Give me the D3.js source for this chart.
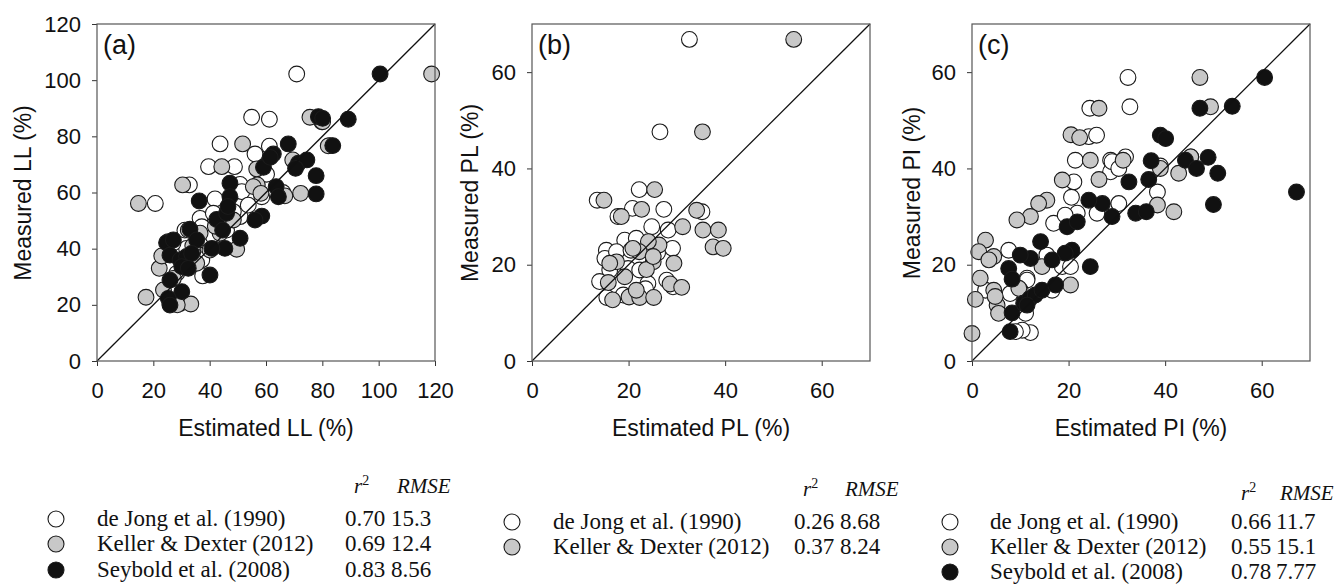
<!DOCTYPE html>
<html lang="en">
<head>
<meta charset="UTF-8">
<title>Measured vs estimated Atterberg limits</title>
<script src="https://cdnjs.cloudflare.com/ajax/libs/d3/7.8.5/d3.min.js"></script>
<style>
    body { margin: 0; background: #fff; }
    svg text { font-family: "Liberation Sans", Arial, sans-serif; fill: #111; }
    .legend text { font-family: "Liberation Serif", "Times New Roman", serif; }
</style>
</head>
<body>
<svg id="chart" width="1336" height="587"></svg>
<script>
// series names and legend stats
const seriesNames = ['de Jong et al. (1990)', 'Keller & Dexter (2012)', 'Seybold et al. (2008)'];
const llTicks = [0, 20, 40, 60, 80, 100, 120];
const plTicks = [0, 20, 40, 60];
const piTicks = [0, 20, 40, 60];
const llStats = [['0.70', '15.3'], ['0.69', '12.4'], ['0.83', '8.56']];
const plStats = [['0.26', '8.68'], ['0.37', '8.24']];
const piStats = [['0.66', '11.7'], ['0.55', '15.1'], ['0.78', '7.77']];

// (a) liquid limit: [estimated, measured]
const llDeJong = [[70.9,102.2],[54.9,86.8],[61.2,86.1],[43.7,77.3],[61.2,76.5],[56.1,73.7],[39.6,69.2],[48.8,69.2],
    [20.7,56.1],[32.8,62.7],[41.9,57.7],[50.8,62.9],[51.4,60.3],[60.2,66.5],[58.5,58.5],[36.6,50.8],[41.3,52.6],
    [50.8,51.4],[31.2,46.6],[36.6,43.1],[46,46.6],[37.5,30.3],[37.2,36],[79.8,85.2],[82.7,76.7],[29.5,20.5],
    [25.9,20.5],[37.2,47.8],[48.4,53.2],[53.7,55.5],[41.3,44.3],[31.8,40.1],[28.3,31.2],[71,70.5],[66,60],
    [34,39],[27,42],[44,49]];
const llKeller = [[118.8,102.2],[75.6,86.8],[80.1,85.2],[51.7,77.3],[44.3,69.2],[30.4,62.7],[14.7,56.1],[56.7,68.4],
    [56.9,62.7],[55.5,62.1],[69.5,71.6],[72.3,59.7],[66.7,58.8],[82.1,76.6],[17.4,22.7],[33.3,20.3],[22.1,33],
    [23,37.4],[49.6,39.8],[40.1,39.5],[32.4,46.6],[35.4,34.8],[48.4,50.2],[43.7,45.5],[23.6,25.3],[25.3,42.5],
    [27.1,29.4],[31.2,34.8],[36.6,45.5],[58.2,59.7],[28.5,20],[42,48],[34,41]];
const llSeybold = [[100.5,102.2],[78.6,87],[80.1,86.4],[89.2,86.1],[67.9,77.3],[62.6,73.7],[83.7,76.7],[59.1,69],
    [71.5,70.4],[74.5,71.6],[70.5,68.6],[77.8,66],[77.8,59.5],[63.6,62.1],[64.4,58.5],[47.2,63.3],[47.2,58.5],
    [36.3,57],[58.5,51.6],[56.1,50.2],[42.5,50.4],[46,52.6],[44.6,46.6],[50.8,43.7],[45.4,40.1],[40.8,40.1],
    [40.1,30.6],[33,46.9],[35.4,43.1],[24.7,42.1],[27.1,43.1],[25.9,37.7],[29.5,36],[31.8,37.2],[33.6,38.3],
    [30.1,33.6],[32.4,33],[25.9,28.8],[30.1,24.7],[25.3,22.3],[25.9,19.9],[61.5,72.5],[46.5,55]];

// (b) plastic limit
const plDeJong = [[32.6,66.8],[26.5,47.6],[22.2,35.6],[13.5,33.4],[20.8,31.7],[27.3,31.5],[17.8,30],[24.8,27.9],
    [28.2,27.2],[29.1,23.4],[19.2,25.1],[21.6,25.5],[15.4,23],[15.1,21.3],[17.5,22.7],[19.9,19.2],[16.1,18.9],
    [14,16.5],[24,16.1],[27.9,16.8],[29.2,15.4],[18.9,13.7],[22.3,18.9],[35.2,31],[15.5,13.2],[23.5,15],
    [26,22.5],[20.5,23]];
const plKeller = [[54.2,66.8],[35.3,47.6],[25.4,35.6],[14.9,33.4],[22.7,31.5],[18.5,30],[34.1,31.3],[31.2,27.9],
    [35.4,27.2],[38.6,27.2],[37.5,23.7],[39.6,23.4],[26.3,24.1],[24.1,24.8],[22.2,22.7],[25.1,20.6],[23.7,19],
    [29.4,20.3],[17.5,20.6],[15.8,16.3],[19.2,17.5],[28.6,16],[31,15.3],[16.7,12.7],[20.1,13.3],[22.3,13.2],
    [25.2,13.2],[21.6,14.7],[25.1,21.7],[16.1,20.3],[20.9,23.4]];

// (c) plasticity index
const piDeJong = [[32.3,58.9],[32.7,52.8],[24.4,52.5],[24.2,46.6],[25.8,46.9],[21.4,41.7],[28.7,41.7],[31.8,42.4],
    [28.7,39.3],[29,41.4],[30.4,40],[21.1,37.2],[20.6,34],[21.8,30.7],[25.9,30.7],[30.4,32.7],[38.4,35.1],
    [16.9,28.6],[19.3,30.3],[7.6,23],[11.4,17.2],[11.4,16.8],[18.7,19.6],[20.4,19.6],[15.5,22],[16.6,14.7],
    [12.1,5.9],[10.4,6.4],[9,6.1],[11.1,9.9],[10,14.7],[7.9,14],[2.8,14.7],[45.3,42.4],[39,40.5]];
const piKeller = [[47.2,58.9],[49.4,52.8],[26.3,52.5],[20.5,47],[22.3,46.4],[24.5,41.7],[31.3,41.7],[26.3,37.7],
    [18.7,37.6],[15.5,33.4],[13.8,32.7],[12.1,30],[9.3,29.3],[2.8,25.1],[1.4,22.7],[4.5,21.7],[1.7,17.2],
    [0.7,12.8],[4.5,14.7],[5.2,11.6],[4.8,13.4],[5.5,9.9],[0,5.7],[14.5,19.6],[20.4,15.8],[39,40],[38.4,32.4],
    [41.8,31],[42.8,39],[45.3,42.4],[9.7,15.1],[3.5,21]];
const piSeybold = [[60.6,58.9],[67.2,35.1],[47.2,52.5],[53.9,52.9],[39,46.9],[40.1,46.2],[37.1,41.6],[32.5,37.2],
    [36.6,37.7],[44.2,41.7],[46.5,40],[48.9,42.3],[50.9,39],[50,32.5],[33.9,30.7],[36.1,31],[29,30],[27,32.7],
    [24.2,33.4],[24.5,19.6],[19.7,27.9],[21.8,28.9],[20.7,23],[19.3,22.4],[14.2,24.8],[16.6,21],[12.1,21.3],
    [10,22],[7.6,19.2],[8.3,17],[8.3,10],[7.9,6.1],[10.7,12],[12,13],[13.1,13.7],[14.5,14.7],[17.3,15.8],[11.4,11.6]];

const fills = ['#ffffff', '#c8c8c8', '#111111'];

const panels = [
    { tag: '(a)', name: 'LL', ticks: llTicks, max: 120, series: [llDeJong, llKeller, llSeybold], stats: llStats,
      left: 97, yLabelX: 23,
      leg: { cx: 56, tx: 97, r2x: 345, rmx: 391, hr: 354, hrm: 397, hy: 493, rows: [526, 551, 577] } },
    { tag: '(b)', name: 'PL', ticks: plTicks, max: 70, series: [plDeJong, plKeller], stats: plStats,
      left: 532, yLabelX: 470,
      leg: { cx: 512, tx: 553, r2x: 794, rmx: 840, hr: 803, hrm: 845, hy: 496, rows: [529, 554] } },
    { tag: '(c)', name: 'PI', ticks: piTicks, max: 70, series: [piDeJong, piKeller, piSeybold], stats: piStats,
      left: 972, yLabelX: 912,
      leg: { cx: 950, tx: 990, r2x: 1231, rmx: 1276, hr: 1241, hrm: 1280, hy: 500, rows: [529, 554, 579] } }
];

const size = 338, plotTop = 24;
const svg = d3.select('#chart');

panels.forEach(p => {
    const x = d3.scaleLinear().domain([0, p.max]).range([p.left, p.left + size]);
    const y = d3.scaleLinear().domain([0, p.max]).range([plotTop + size - 1, plotTop]);
    const g = svg.append('g');

    // axes
    g.append('g')
        .attr('transform', `translate(0,${plotTop + size - 1})`)
        .call(d3.axisBottom(x).tickValues(p.ticks).tickSize(5).tickPadding(16).tickSizeOuter(0))
        .call(a => a.select('.domain').remove())
        .call(a => a.selectAll('text').style('font-size', '22px').attr('fill', '#111'))
        .call(a => a.selectAll('line').attr('stroke', '#333'));
    g.append('g')
        .attr('transform', `translate(${p.left},0)`)
        .call(d3.axisLeft(y).tickValues(p.ticks).tickSize(5).tickPadding(11).tickSizeOuter(0))
        .call(a => a.select('.domain').remove())
        .call(a => a.selectAll('text').style('font-size', '22px').attr('fill', '#111'))
        .call(a => a.selectAll('line').attr('stroke', '#333'));

    // points: open first, then grey, then black
    p.series.forEach((data, i) => {
        g.append('g').selectAll('circle')
            .data(data)
            .enter().append('circle')
            .attr('cx', d => x(d[0]))
            .attr('cy', d => y(d[1]))
            .attr('r', 7.9)
            .attr('fill', fills[i])
            .attr('stroke', '#1a1a1a')
            .attr('stroke-width', 1.1);
    });

    // 1:1 line
    g.append('line')
        .attr('x1', x(0)).attr('y1', y(0))
        .attr('x2', x(p.max)).attr('y2', y(p.max))
        .attr('stroke', '#111').attr('stroke-width', 1.3);

    // frame
    g.append('rect')
        .attr('x', p.left).attr('y', plotTop)
        .attr('width', size).attr('height', size - 1)
        .attr('fill', 'none').attr('stroke', '#555').attr('stroke-width', 1.2);

    g.append('text')
        .attr('x', p.left + 6).attr('y', 54)
        .style('font-size', '27px')
        .text(p.tag);

    g.append('text')
        .attr('x', p.left + size / 2).attr('y', 436)
        .attr('text-anchor', 'middle')
        .style('font-size', '23px')
        .text(`Estimated ${p.name} (%)`);

    g.append('text')
        .attr('transform', `translate(${p.yLabelX},${plotTop + size / 2}) rotate(-90)`)
        .attr('text-anchor', 'middle')
        .attr('dy', '0.35em')
        .style('font-size', '23px')
        .text(`Measured ${p.name} (%)`);

    // legend
    const lg = svg.append('g').attr('class', 'legend');
    const L = p.leg;
    const hdr = lg.append('text').attr('x', L.hr).attr('y', L.hy).style('font-size', '21px').style('font-style', 'italic');
    hdr.append('tspan').text('r');
    hdr.append('tspan').attr('dy', -8).style('font-size', '14px').style('font-style', 'normal').text('2');
    lg.append('text').attr('x', L.hrm).attr('y', L.hy).style('font-size', '21px').style('font-style', 'italic').text('RMSE');

    p.stats.forEach((s, i) => {
        const ry = L.rows[i];
        lg.append('circle')
            .attr('cx', L.cx).attr('cy', ry - 7)
            .attr('r', 8)
            .attr('fill', fills[i])
            .attr('stroke', '#1a1a1a').attr('stroke-width', 1.1);
        lg.append('text').attr('x', L.tx).attr('y', ry).style('font-size', '23px').text(seriesNames[i]);
        lg.append('text').attr('x', L.r2x).attr('y', ry).style('font-size', '23px').text(s[0]);
        lg.append('text').attr('x', L.rmx).attr('y', ry).style('font-size', '23px').text(s[1]);
    });
});
</script>
</body>
</html>
